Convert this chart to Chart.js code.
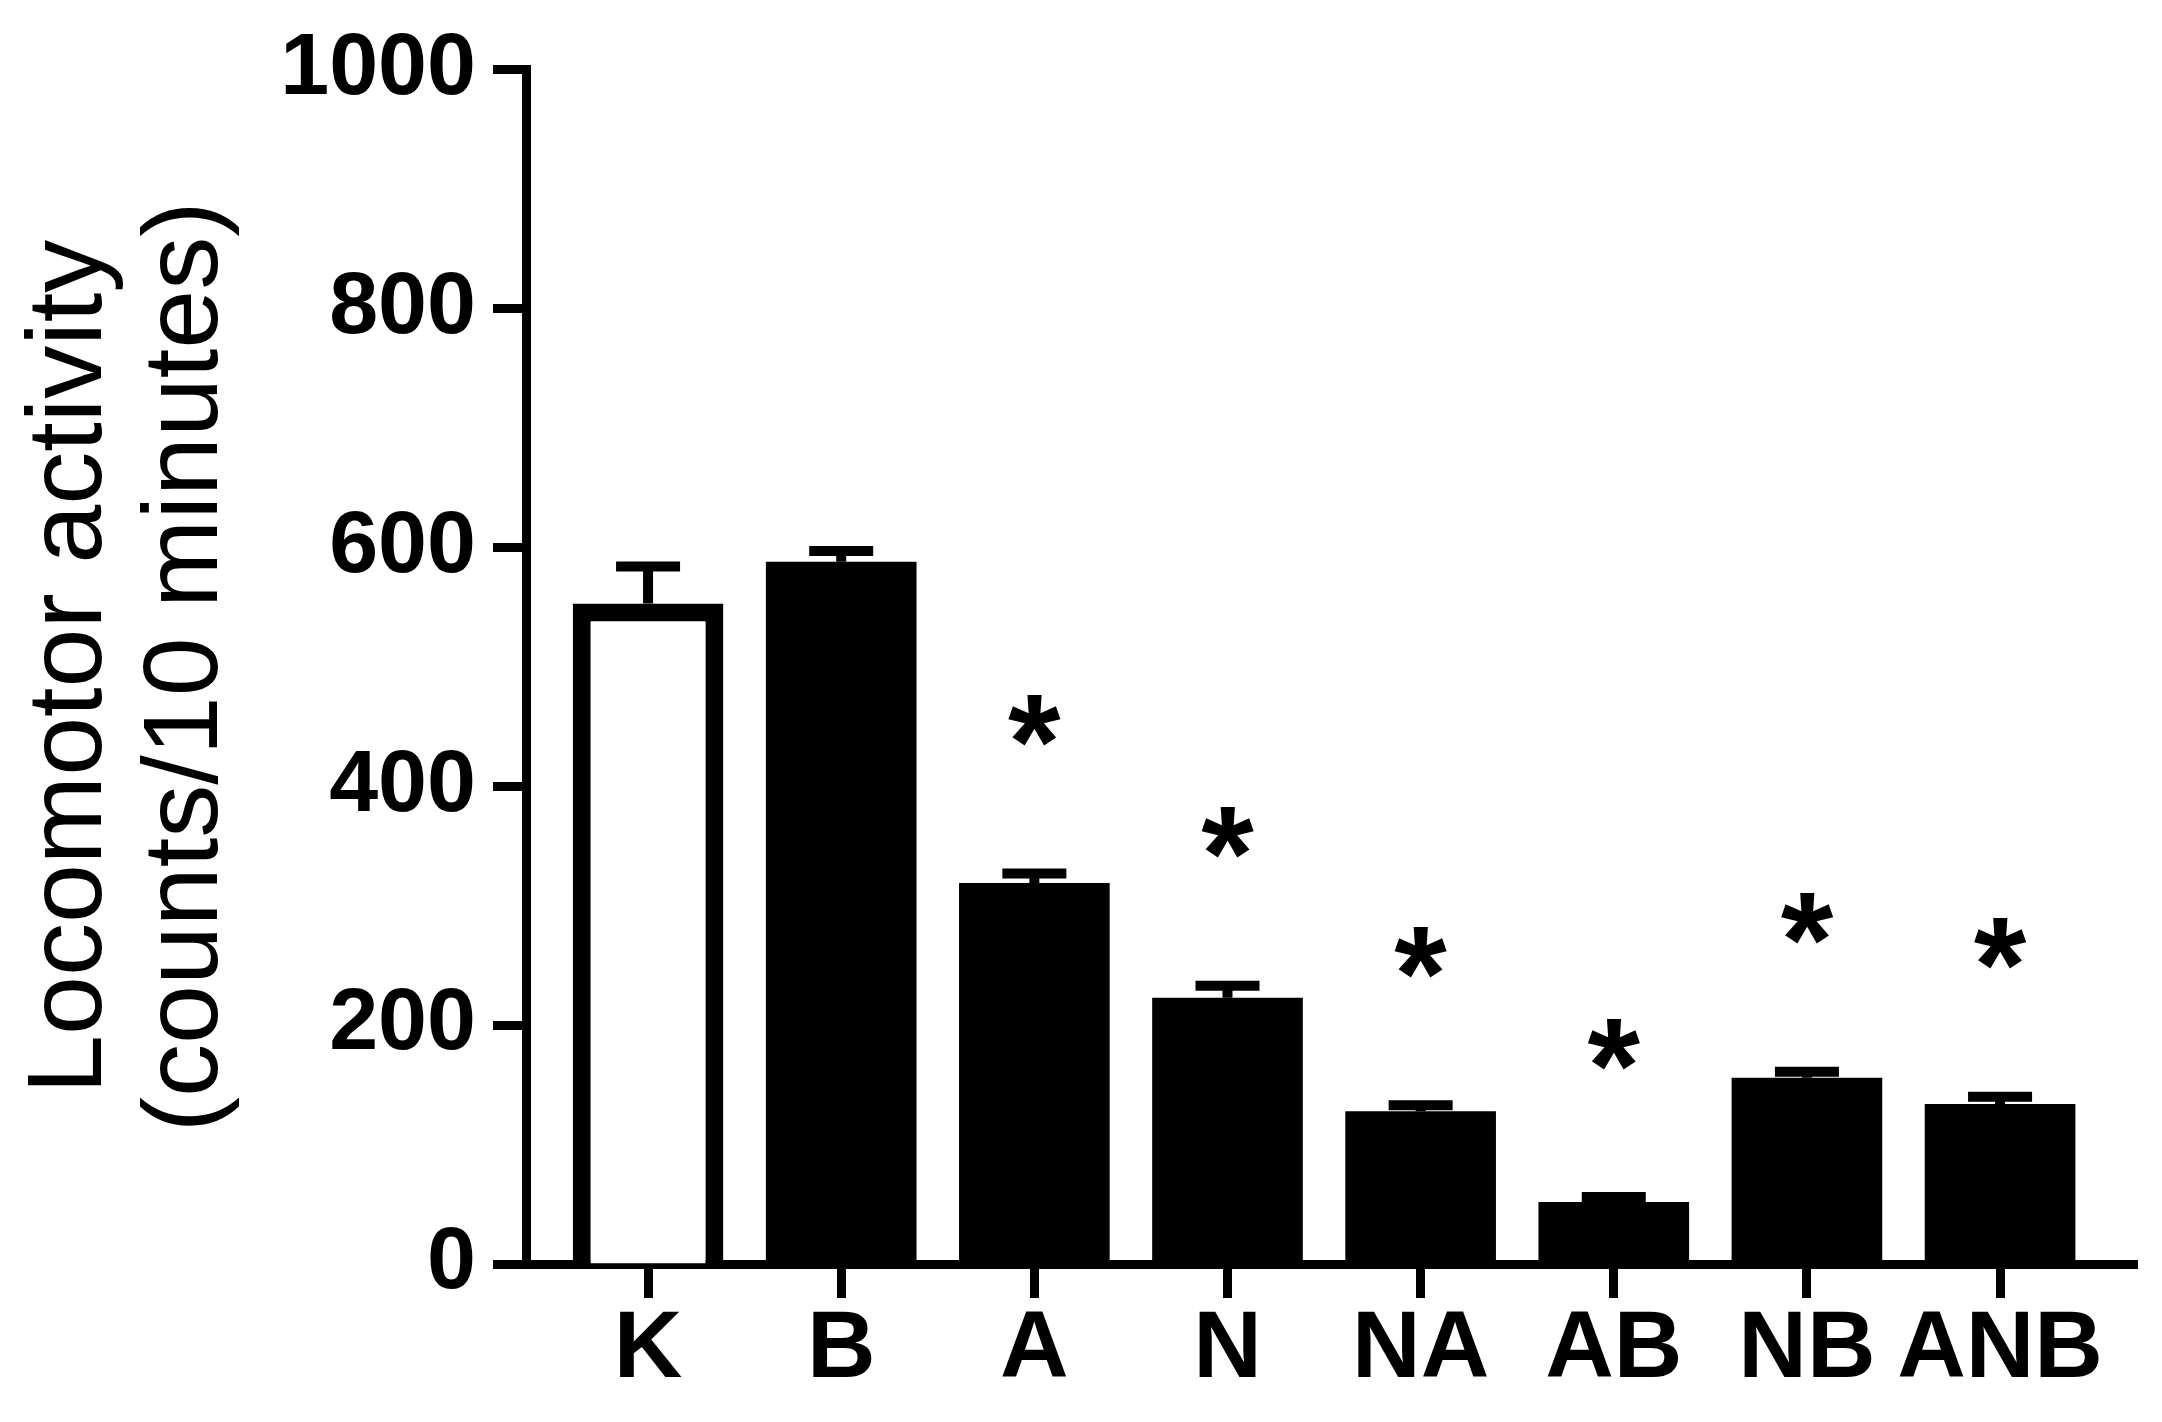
<!DOCTYPE html>
<html>
<head>
<meta charset="utf-8">
<script src="https://cdn.jsdelivr.net/npm/chart.js@4.4.1/dist/chart.umd.min.js"></script>
<style>
  html, body { margin: 0; padding: 0; background: #fff; }
  canvas { display: block; }
</style>
</head>
<body>
<canvas id="chart" width="2162" height="1422"></canvas>
<script>
const groups = ['K', 'B', 'A', 'N', 'NA', 'AB', 'NB', 'ANB'];
const means = [553, 588, 319, 223, 128, 52, 156, 134];
const sems = [31, 9, 8, 10, 5, 4, 5, 6];
const significant = [false, false, true, true, true, true, true, true];
const yTicks = [0, 200, 400, 600, 800, 1000];

const FONT = '"Liberation Sans", Arial, sans-serif';

// SEM whiskers and the "*" marks above them
const errorBars = {
    id: 'errorBars',
    afterDatasetsDraw(chart) {
        const ctx = chart.ctx;
        const y = chart.scales.y;
        const meta = chart.getDatasetMeta(0);
        ctx.save();
        ctx.strokeStyle = '#000';
        ctx.fillStyle = '#000';
        ctx.lineWidth = 10;
        ctx.font = 'bold 135px ' + FONT;
        ctx.textAlign = 'center';
        ctx.textBaseline = 'alphabetic';
        meta.data.forEach((bar, i) => {
            const top = y.getPixelForValue(means[i] + sems[i]);
            ctx.beginPath();
            ctx.moveTo(bar.x, y.getPixelForValue(means[i]));
            ctx.lineTo(bar.x, top);
            ctx.moveTo(bar.x - 32, top);
            ctx.lineTo(bar.x + 32, top);
            ctx.stroke();
            if (significant[i]) {
                const m = ctx.measureText('*');
                const cy = top - 153;
                ctx.fillText('*', bar.x, cy + (m.actualBoundingBoxAscent - m.actualBoundingBoxDescent) / 2);
            }
        });
        ctx.restore();
    }
};

new Chart(document.getElementById('chart'), {
    type: 'bar',
    data: {
        datasets: [{
            data: means.map((v, i) => ({x: i, y: v})),
            backgroundColor: groups.map((g, i) => i === 0 ? '#ffffff' : '#000000'),
            borderColor: '#000000',
            borderWidth: groups.map((g, i) => i === 0 ? 18 : 0),
            borderSkipped: 'start',
            barPercentage: 0.78,
            categoryPercentage: 1
        }]
    },
    options: {
        responsive: false,
        animation: false,
        devicePixelRatio: 1,
        layout: {
            padding: {top: 68, right: 25, bottom: 0, left: 0}
        },
        plugins: {
            legend: {display: false},
            tooltip: {enabled: false}
        },
        scales: {
            x: {
                type: 'linear',
                offset: false,
                min: -0.632,
                max: 7.709,
                afterBuildTicks: (axis) => {
                    axis.ticks = groups.map((g, i) => ({value: i}));
                },
                afterFit: (axis) => {
                    axis.height = 158;
                },
                border: {color: '#000', width: 9},
                grid: {
                    offset: false,
                    drawOnChartArea: false,
                    drawTicks: true,
                    tickLength: 34,
                    tickWidth: 9,
                    tickColor: '#000'
                },
                ticks: {
                    callback: (v) => groups[v],
                    color: '#000',
                    padding: -4,
                    maxRotation: 0,
                    autoSkip: false,
                    font: {family: FONT, size: 95, weight: 'bold'}
                }
            },
            y: {
                min: 0,
                max: 1000,
                afterBuildTicks: (axis) => {
                    axis.ticks = yTicks.map(v => ({value: v}));
                },
                afterFit: (axis) => {
                    axis.width = 526;
                },
                border: {color: '#000', width: 9},
                grid: {
                    drawOnChartArea: false,
                    drawTicks: true,
                    tickLength: 33,
                    tickWidth: 9,
                    tickColor: '#000'
                },
                ticks: {
                    callback: (v) => String(v),
                    color: '#000',
                    padding: 17,
                    font: {family: FONT, size: 88, weight: 'bold'}
                },
                title: {
                    display: true,
                    text: ['Locomotor activity', '(counts/10 minutes)'],
                    color: '#000',
                    padding: {top: 13, bottom: 0},
                    font: {family: FONT, size: 106, lineHeight: 1.1}
                }
            }
        }
    },
    plugins: [errorBars]
});
</script>
</body>
</html>
